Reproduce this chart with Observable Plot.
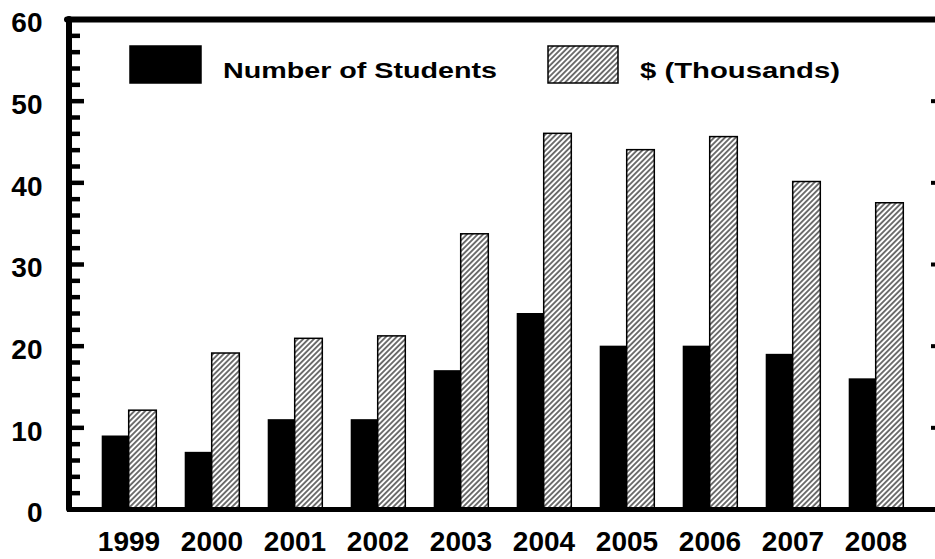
<!DOCTYPE html>
<html><head><meta charset="utf-8">
<script src="https://cdn.jsdelivr.net/npm/d3@7"></script>
<script src="https://cdn.jsdelivr.net/npm/@observablehq/plot@0.6"></script>
<style>
html,body{margin:0;padding:0;background:#fff;}
#chart{width:935px;height:559px;overflow:hidden;}
</style>
</head><body><div id="chart"></div>
<script>
const years = ["1999","2000","2001","2002","2003","2004","2005","2006","2007","2008"];
const students = [9, 7, 11, 11, 17, 24, 20, 20, 19, 16];
const dollars = [12.1, 19.1, 20.9, 21.2, 33.7, 46.0, 44.0, 45.6, 40.1, 37.5];
const seriesNames = ["Number of Students", "$ (Thousands)"];
const majorTicks = [0, 10, 20, 30, 40, 50, 60];
const minorTicks = [2,4,6,8,12,14,16,18,22,24,26,28,32,34,36,38,42,44,46,48,52,54,56,58];
const rightTicks = [10, 20, 30, 40, 50];

const studentRows = years.map((y, i) => ({year: y, series: seriesNames[0], value: students[i]}));
const dollarRows = years.map((y, i) => ({year: y, series: seriesNames[1], value: dollars[i]}));

const firstCenter = 127, lastCenter = 877.5;
const half = 83.4 / 2;
const W = 935, ML = 67;
const frameW = W - ML;
const font = "'Liberation Sans', Arial, sans-serif";

const plot = Plot.plot({
  width: W, height: 559,
  marginLeft: ML, marginRight: 0, marginTop: 19, marginBottom: 50,
  style: {fontFamily: font, background: "#fff", color: "#000", overflow: "visible"},
  x: {type: "band", domain: years, range: [firstCenter - half, lastCenter + half], padding: 0},
  y: {domain: [0, 60]},
  marks: [
    Plot.barY(studentRows, {x: "year", y: "value", fill: "#000", insetLeft: half - 27, insetRight: half}),
    Plot.barY(dollarRows, {x: "year", y: "value", fill: "url(#hatch)", stroke: "#000", strokeWidth: 1.5, insetLeft: half, insetRight: half - 28}),
    Plot.ruleY([0], {strokeWidth: 5}),
    Plot.ruleY([60], {strokeWidth: 6, strokeLinecap: "round"}),
    Plot.ruleX([years[0]], {x: d => d, y1: 0, y2: 60, dx: ML - firstCenter, stroke: "#000", strokeWidth: 6, strokeLinecap: "round"}),
    Plot.ruleY(majorTicks.filter(d => d > 0 && d < 60), {y: d => d, insetRight: frameW - 17, stroke: "#000", strokeWidth: 4.5}),
    Plot.ruleY(minorTicks, {y: d => d, insetRight: frameW - 13, stroke: "#000", strokeWidth: 4.5}),
    Plot.ruleY(rightTicks, {y: d => d, insetLeft: frameW - 4, strokeWidth: 4}),
    Plot.axisY({ticks: majorTicks, tickSize: 0, tickPadding: 25, fontSize: 28, fontWeight: "bold", dy: 4, label: null}),
    Plot.axisX({tickSize: 0, tickPadding: 22, fontSize: 28, fontWeight: "bold", label: null})
  ]
});

const svg = d3.select(plot);
const defs = svg.insert("defs", ":first-child");
const pat = defs.append("pattern").attr("id", "hatch").attr("patternUnits", "userSpaceOnUse")
  .attr("width", 3.8).attr("height", 3.8).attr("patternTransform", "rotate(45)");
pat.append("rect").attr("width", 3.8).attr("height", 3.8).attr("fill", "#fff");
pat.append("line").attr("x1", 1.9).attr("y1", -1).attr("x2", 1.9).attr("y2", 5).attr("stroke", "#000").attr("stroke-width", 1.1);

// legend
const lg = svg.append("g").attr("text-anchor", "start");
const legendItems = [
  {name: seriesNames[0], fill: "#000", rx: 130, rw: 71, tx: 223, tw: 274},
  {name: seriesNames[1], fill: "url(#hatch)", rx: 548, rw: 70, tx: 640, tw: 200}
];
for (const it of legendItems) {
  lg.append("rect").attr("x", it.rx).attr("y", 46).attr("width", it.rw).attr("height", 37)
    .attr("fill", it.fill).attr("stroke", "#000").attr("stroke-width", 1.5);
  lg.append("text").attr("x", it.tx).attr("y", 78).text(it.name)
    .attr("text-anchor", "start")
    .attr("font-family", font).attr("font-weight", "bold").attr("font-size", 22)
    .attr("textLength", it.tw).attr("lengthAdjust", "spacingAndGlyphs").attr("fill", "#000");
}

document.getElementById("chart").appendChild(plot);
</script>
</body></html>
